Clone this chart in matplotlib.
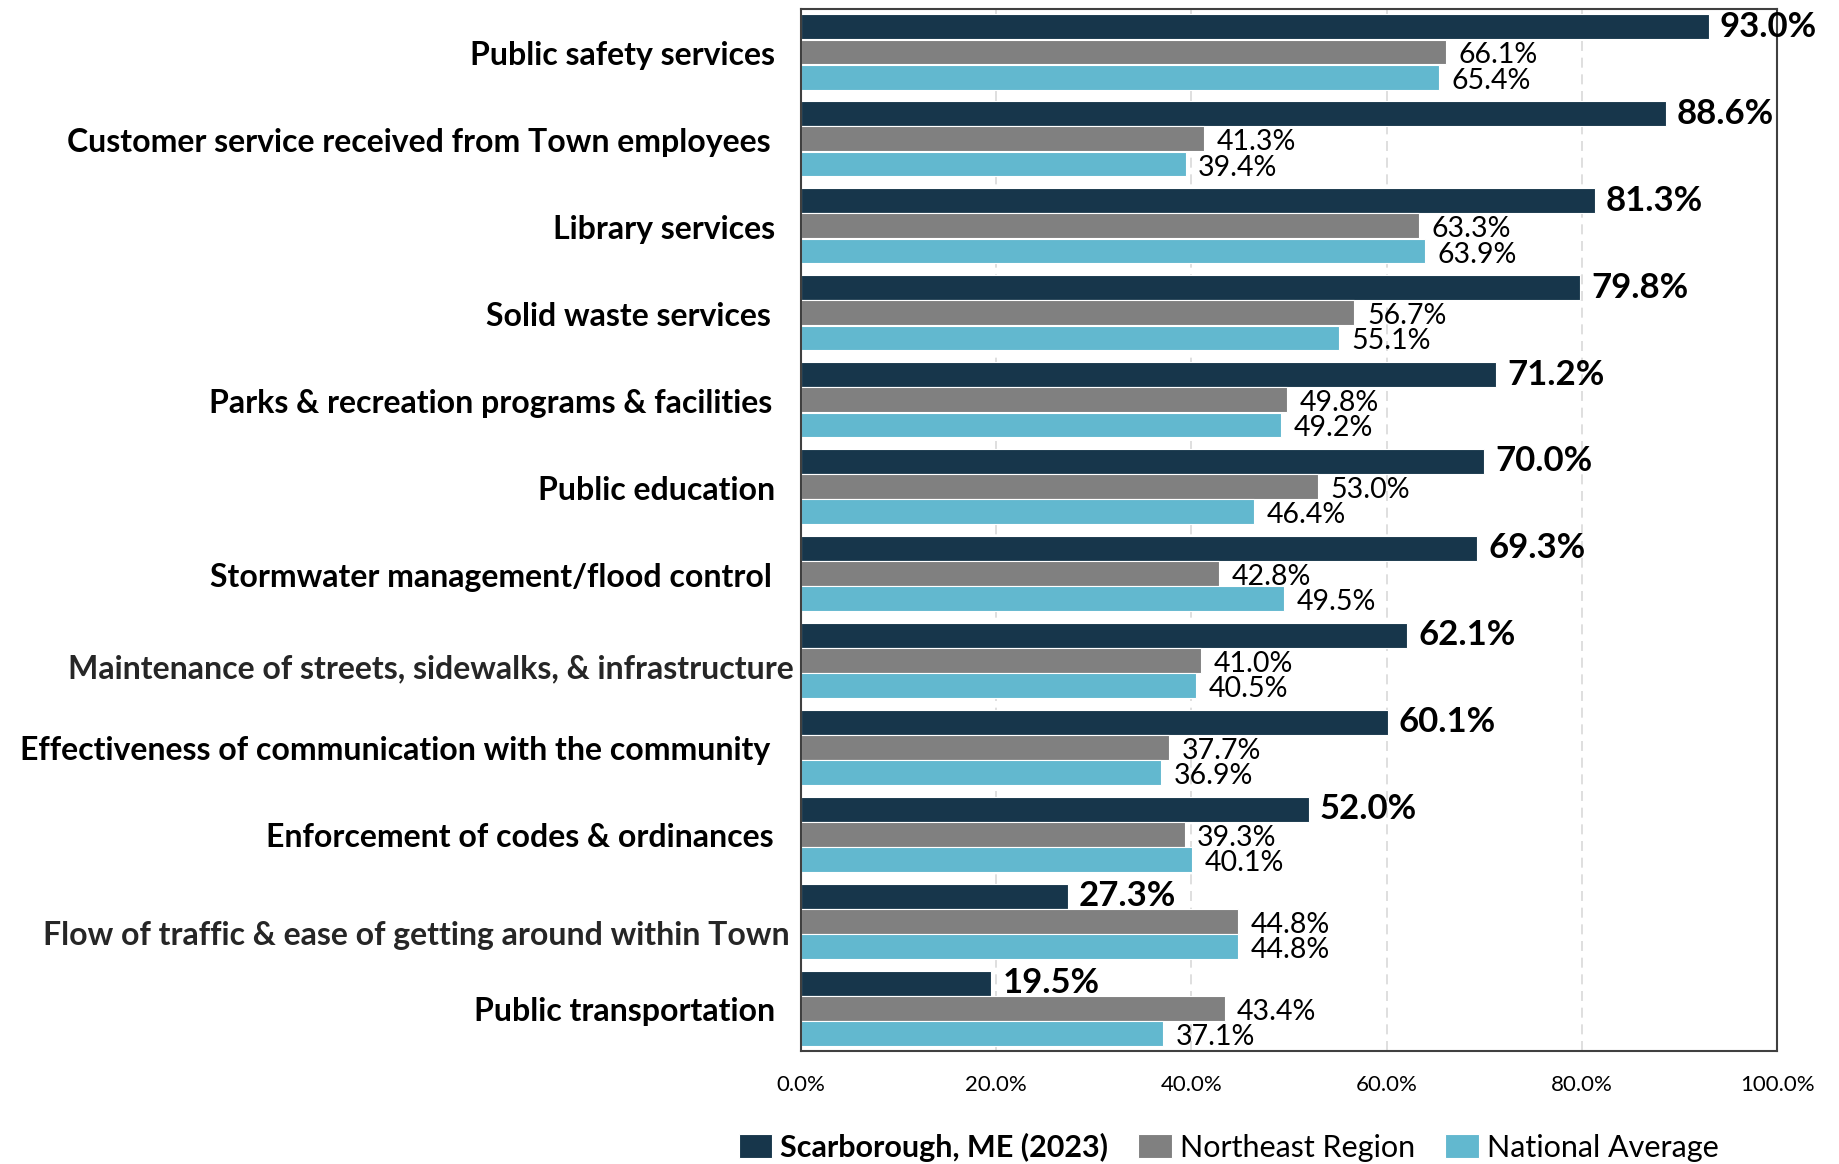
import numpy as np
import matplotlib.pyplot as plt
from matplotlib.transforms import offset_copy

plt.rcParams['font.family'] = ['Lato', 'DejaVu Sans']

# Services rated, top to bottom
services = [
    'Public safety services',
    'Customer service received from Town employees',
    'Library services',
    'Solid waste services',
    'Parks & recreation programs & facilities',
    'Public education',
    'Stormwater management/flood control',
    'Maintenance of streets, sidewalks, & infrastructure',
    'Effectiveness of communication with the community',
    'Enforcement of codes & ordinances',
    'Flow of traffic & ease of getting around within Town',
    'Public transportation',
]

# Percent rating the service excellent or good
scarborough = [93.0, 88.6, 81.3, 79.8, 71.2, 70.0, 69.3, 62.1, 60.1, 52.0, 27.3, 19.5]
northeast = [66.1, 41.3, 63.3, 56.7, 49.8, 53.0, 42.8, 41.0, 37.7, 39.3, 44.8, 43.4]
national = [65.4, 39.4, 63.9, 55.1, 49.2, 46.4, 49.5, 40.5, 36.9, 40.1, 44.8, 37.1]

series_names = ['Scarborough, ME (2023)', 'Northeast Region', 'National Average']
x_ticks = [0, 20, 40, 60, 80, 100]

colors = ['#17364B', '#808080', '#62B8CF']

# gap (points) between each category label and the axis, and vertical nudge
label_gap = [19, 22, 19, 22, 21, 19, 21, 5, 22, 20, 8, 19]
label_dy = [-2.5] * 12
label_dy[7] = -6
label_dy[10] = -10
label_color = ['black'] * 12
label_color[7] = '#262626'
label_color[10] = '#262626'

fig = plt.figure(figsize=(18.39, 11.64), dpi=100)
ax = fig.add_axes([0.4356, 0.0971, 0.5307, 0.8949])

y = np.arange(len(services))
bar_h = 0.285
step = 0.29

all_series = [scarborough, northeast, national]
for k, (vals, col) in enumerate(zip(all_series, colors)):
    pos = y + (k - 1) * step
    ax.barh(pos, vals, height=bar_h, color=col, edgecolor='white',
            linewidth=0.8, zorder=2, label=series_names[k])
    for p, v in zip(pos, vals):
        if k == 0:
            ax.annotate(f'{v:.1f}%', (v, p), xytext=(8, 0), textcoords='offset points',
                        ha='left', va='center', fontsize=25, fontweight='bold',
                        color='black', zorder=4)
        else:
            ax.annotate(f'{v:.1f}%', (v, p + 0.04), xytext=(9, 0), textcoords='offset points',
                        ha='left', va='center', fontsize=20.5, color='black', zorder=4)

ax.set_xlim(0, 100)
ax.set_ylim(len(services) - 0.51, -0.49)
ax.set_xticks(x_ticks)
ax.set_xticklabels([f'{t:.1f}%' for t in x_ticks], fontsize=16)
ax.tick_params(axis='x', length=0, pad=17)
ax.set_yticks([])

for t in x_ticks[1:-1]:
    ax.axvline(t, color='#D9D9D9', linewidth=1.2, linestyle=(0, (6, 4)), zorder=1)

for s in ax.spines.values():
    s.set_color('#404040')
    s.set_linewidth(1.5)

# category labels to the left of the axis
for i, name in enumerate(services):
    tr = offset_copy(ax.get_yaxis_transform(), fig=fig, x=-label_gap[i],
                     y=label_dy[i], units='points')
    ax.text(0, i, name, transform=tr, ha='right', va='center', fontsize=23,
            fontweight='bold', color=label_color[i])

leg = fig.legend(loc='center', bbox_to_anchor=(0.668, 0.0146), ncol=3, frameon=False,
                 fontsize=22, handlelength=1.1, handleheight=0.8, handletextpad=0.25,
                 columnspacing=1.0)
leg.get_texts()[0].set_fontweight('bold')

fig.savefig('out.png', dpi=100)
